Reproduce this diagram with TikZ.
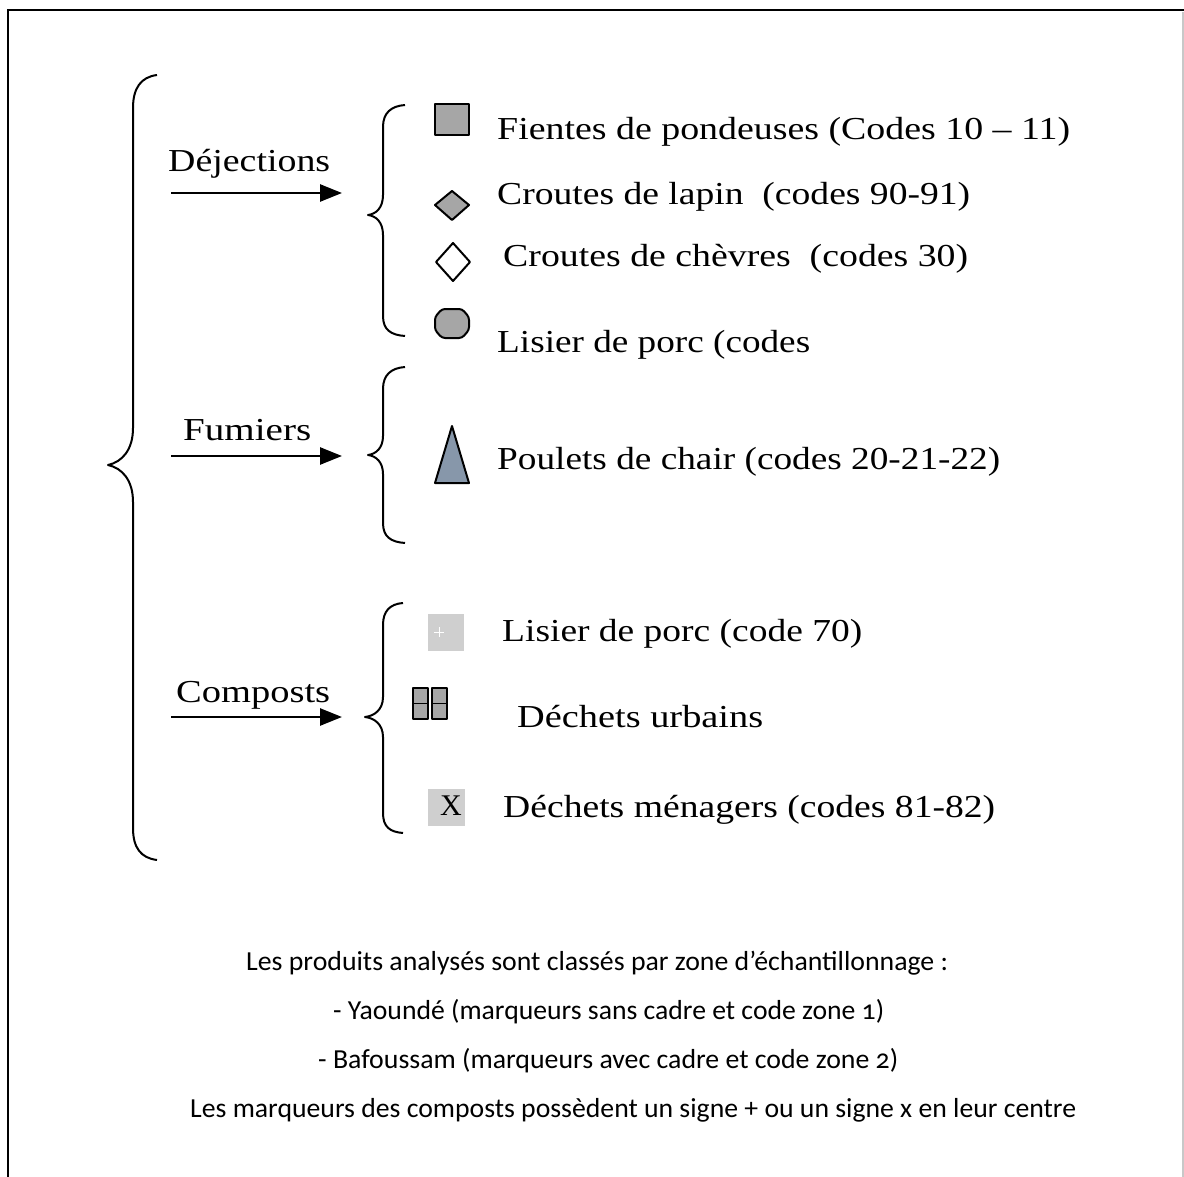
\documentclass[tikz,border=0pt]{standalone}
\usepackage{fontspec}
\usepackage{graphicx}
\setmainfont{Liberation Serif}
\newfontfamily\notefont[Numbers=OldStyle]{Carlito}
\usetikzlibrary{arrows.meta}

\definecolor{markgray}{HTML}{A6A6A6}
\definecolor{lightmark}{HTML}{CFCFCF}
\definecolor{slatemark}{HTML}{8797AA}
\definecolor{edgegray}{HTML}{C8C8C8}

% set a text horizontally to a given width (in pt)
\newsavebox\fitbox
\newcommand\fitto[2]{\sbox\fitbox{#2}\pgfmathsetmacro\fitratio{#1/\the\wd\fitbox}\scalebox{\fitratio}[1]{\usebox\fitbox}}

\begin{document}
\begin{tikzpicture}[x=1pt,y=-1pt,
  cattxt/.style={anchor=base west,inner sep=0pt,font=\fontsize{32}{36}\selectfont},
  itemtxt/.style={anchor=base west,inner sep=0pt,font=\fontsize{32}{36}\selectfont},
  notetxt/.style={anchor=base west,inner sep=0pt,font=\notefont\fontsize{27.5}{30}\selectfont},
  brace/.style={line width=2pt,line join=round},
  catarrow/.style={line width=2.6pt,-{Triangle[length=22pt,width=17pt]}},
  markbox/.style={draw=black,line width=2pt,line join=round}]
\useasboundingbox (0,0) rectangle (1184,1177);

% page frame
\draw[line width=2.2pt] (8,1177) -- (8,10) -- (1184,10);
\draw[edgegray,line width=1.5pt] (1183,12) -- (1183,1177);

% outer brace
\draw[brace] (157,75) .. controls (141,77) and (133,88) .. (133,108)
  -- (133,428) .. controls (133,450) and (122,462) .. (108,465)
  .. controls (122,468) and (133,480) .. (133,502)
  -- (133,828) .. controls (133,848) and (141,858) .. (157,860);

% inner braces
\draw[brace] (405,105) .. controls (391,106) and (383,113) .. (383,127)
  -- (383,195) .. controls (383,208) and (376,214) .. (368,215)
  .. controls (376,216) and (383,222) .. (383,235)
  -- (383,316) .. controls (383,330) and (391,335) .. (405,336);
\draw[brace] (405,367) .. controls (391,368) and (383,375) .. (383,389)
  -- (383,436) .. controls (383,448) and (376,454) .. (368,455)
  .. controls (376,456) and (383,462) .. (383,474)
  -- (383,523) .. controls (383,537) and (391,542) .. (405,543);
\draw[brace] (403,603) .. controls (390,604) and (383,611) .. (383,625)
  -- (383,697) .. controls (383,710) and (374,716) .. (365,717)
  .. controls (374,718) and (383,724) .. (383,737)
  -- (383,813) .. controls (383,827) and (390,832) .. (403,833);

% category labels and arrows
\node[cattxt] (dej) at (168,172) {\fitto{162}{Déjections}};
\node[cattxt] (fum) at (183,440) {\fitto{128}{Fumiers}};
\node[cattxt] (comp) at (176,702) {\fitto{154}{Composts}};
\coordinate (dejS) at (171,193);  \coordinate (dejE) at (342,193);
\coordinate (fumS) at (171,456);  \coordinate (fumE) at (342,456);
\coordinate (compS) at (171,717); \coordinate (compE) at (342,717);
\draw[catarrow] (dejS) -- (dejE);
\draw[catarrow] (fumS) -- (fumE);
\draw[catarrow] (compS) -- (compE);

% markers: déjections
\draw[markbox,fill=markgray] (435,104) rectangle (469,135);
\draw[markbox,fill=markgray] (435,205) -- (452,191) -- (469,205) -- (452,220) -- cycle;
\draw[markbox,fill=white] (436,262) -- (453,243) -- (470,262) -- (453,281) -- cycle;
\draw[markbox,fill=markgray,rounded corners=3pt] (435,317) -- (442,309) -- (462,309)
  -- (469,317) -- (469,330) -- (462,338) -- (442,338) -- (435,330) -- cycle;
% marker: fumiers
\draw[markbox,fill=slatemark] (452,426) -- (469,483) -- (435,483) -- cycle;
% markers: composts
\fill[lightmark] (428,614) rectangle (464,651);
\draw[white,line width=0.8pt] (434,632) -- (444,632) (439,627) -- (439,637);
\draw[markbox,line width=1.8pt,fill=markgray] (413,688) rectangle (428,719);
\draw[markbox,line width=1.8pt,fill=markgray] (432,688) rectangle (447,719);
\draw[line width=1.6pt] (413,703.5) -- (428,703.5) (432,703.5) -- (447,703.5);
\fill[lightmark] (428,789) rectangle (465,826);
\node[inner sep=0pt,font=\fontsize{30}{30}\selectfont] (xsign) at (451,806) {X};

% item texts
\node[itemtxt] (t1) at (497,140) {\fitto{573}{Fientes de pondeuses (Codes 10 – 11)}};
\node[itemtxt] (t2) at (497,205) {\fitto{473}{Croutes de lapin\ \ (codes 90-91)}};
\node[itemtxt] (t3) at (503,266) {\fitto{465}{Croutes de chèvres\ \ (codes 30)}};
\node[itemtxt] (t4) at (497,352) {\fitto{313}{Lisier de porc (codes}};
\node[itemtxt] (t5) at (497,469) {\fitto{503}{Poulets de chair (codes 20-21-22)}};
\node[itemtxt] (t6) at (502,641) {\fitto{360}{Lisier de porc (code 70)}};
\node[itemtxt] (t7) at (517,727) {\fitto{246}{Déchets urbains}};
\node[itemtxt] (t8) at (503,817) {\fitto{492}{Déchets ménagers (codes 81-82)}};

% notes
\node[notetxt] (n1) at (246,970) {\fitto{702}{Les produits analysés sont classés par zone d’échantillonnage :}};
\node[notetxt] (n2) at (333,1019) {\fitto{551}{- Yaoundé (marqueurs sans cadre et code zone 1)}};
\node[notetxt] (n3) at (318,1068) {\fitto{580}{- Bafoussam (marqueurs avec cadre et code zone 2)}};
\node[notetxt] (n4) at (190,1117) {\fitto{886}{Les marqueurs des composts possèdent un signe + ou un signe x en leur centre}};
\end{tikzpicture}
\end{document}
